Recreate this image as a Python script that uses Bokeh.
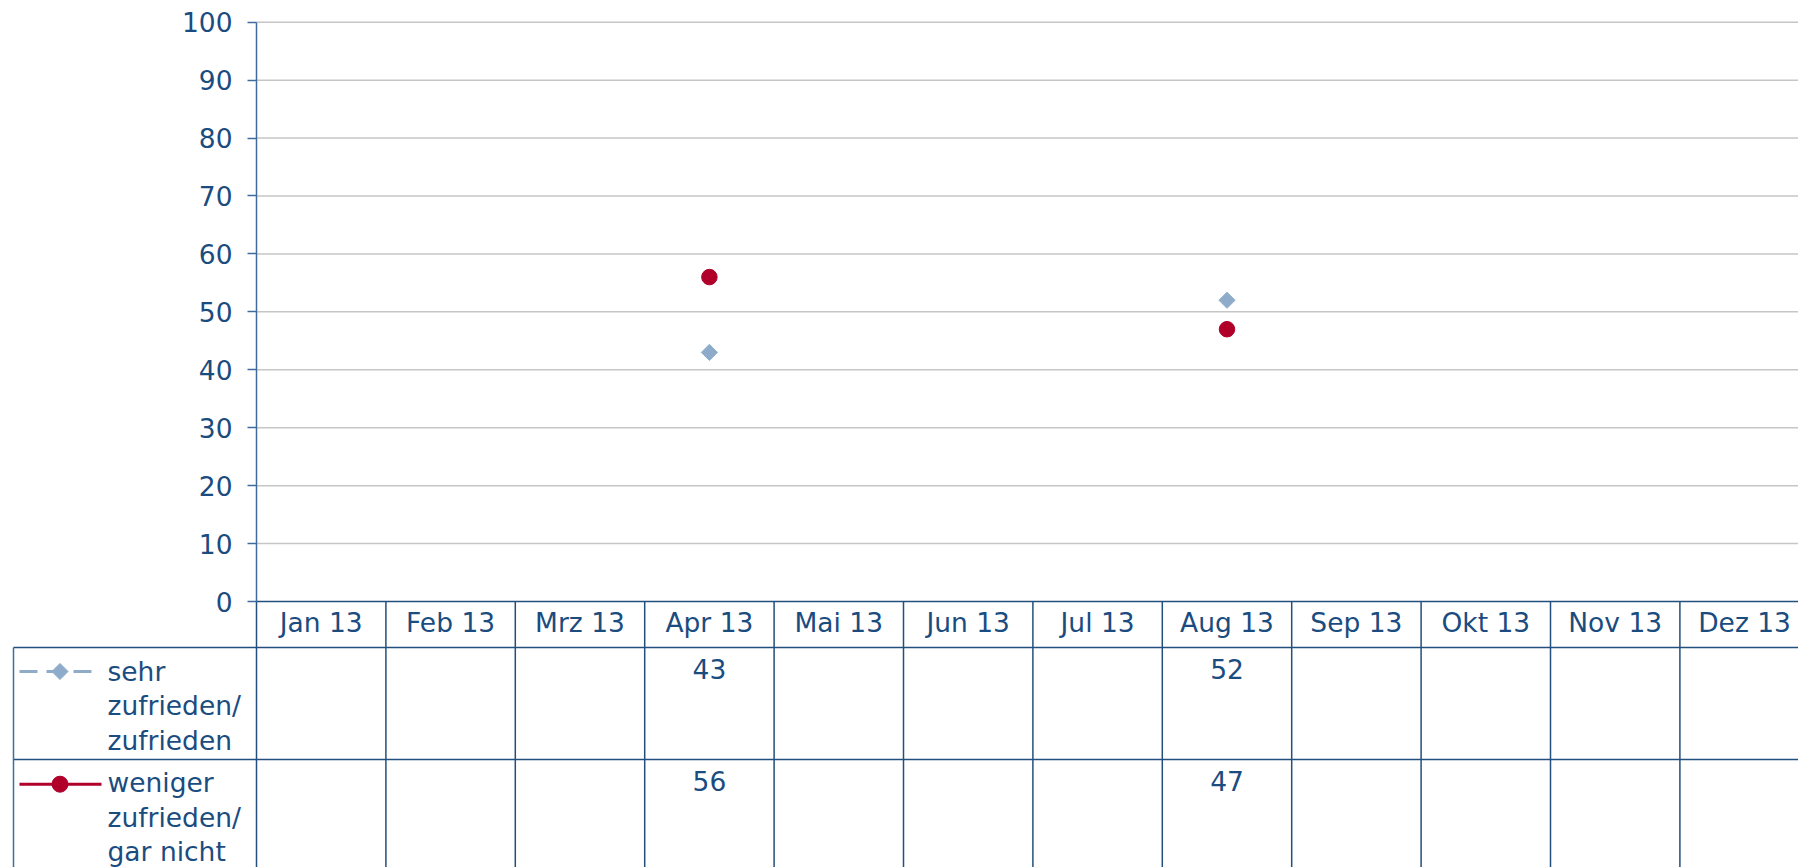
import math
from bokeh.plotting import figure
from bokeh.models import Range1d, LinearAxis, FixedTicker
from bokeh.core.properties import value
from bokeh.embed import file_html
from bokeh.resources import INLINE

# ---------------- data ----------------
MONTHS = ["Jan 13", "Feb 13", "Mrz 13", "Apr 13", "Mai 13", "Jun 13",
          "Jul 13", "Aug 13", "Sep 13", "Okt 13", "Nov 13", "Dez 13"]
ZUFRIEDEN = [None, None, None, 43, None, None, None, 52, None, None, None, None]
WENIGER = [None, None, None, 56, None, None, None, 47, None, None, None, None]
LEGEND_ZUFRIEDEN = ["sehr", "zufrieden/", "zufrieden"]
LEGEND_WENIGER = ["weniger", "zufrieden/", "gar nicht"]
Y_TICKS = [0, 10, 20, 30, 40, 50, 60, 70, 80, 90, 100]

# ---------------- styles / layout (page pixels) ----------------
FONT = value("DejaVu Sans")
FSIZE = "26.5px"
TEXT_COLOR = "#1B4C7F"
AXIS_COLOR = "#3E6C9C"
TABLE_COLOR = "#234F7E"
GRID_COLOR = "#C6C6C6"
BLUE = "#8EACC9"
RED = "#B0002A"

MARGIN = 0
FIG_W, FIG_H = 1798, 867
AXIS_PX_X = 256.0
COL_PX = 129.4
ZERO_PX_Y = 601.0
UNIT_PX_Y = 5.793
TABLE_LEFT_PX = 13.0
ROW_TOPS_PX = [647.0, 759.0]


def dx(px):
    return (px - AXIS_PX_X) / COL_PX - 0.5


def dy(py):
    return (ZERO_PX_Y - py) / UNIT_PX_Y


X_START, X_END = dx(MARGIN), dx(MARGIN + FIG_W)
Y_START, Y_END = dy(MARGIN + FIG_H), dy(MARGIN)

p = figure(width=FIG_W, height=FIG_H,
           x_range=Range1d(X_START, X_END), y_range=Range1d(Y_START, Y_END),
           output_backend="svg", toolbar_location=None,
           x_axis_location=None, y_axis_location=None,
           min_border=0, min_border_left=0, min_border_right=0,
           min_border_top=0, min_border_bottom=0,
           outline_line_color=None, background_fill_color="white",
           border_fill_color="white")
p.grid.visible = False

n = len(MONTHS)

# gridlines (10..100)
gy = [t for t in Y_TICKS if t > 0]
p.segment(x0=[-0.5] * len(gy), x1=[X_END + 1] * len(gy), y0=gy, y1=gy,
          line_color=GRID_COLOR, line_width=1.5)

# data table lines
bottom = Y_START - 1
p.segment(x0=[dx(TABLE_LEFT_PX)] * 2, x1=[X_END + 1] * 2,
          y0=[dy(r) for r in ROW_TOPS_PX], y1=[dy(r) for r in ROW_TOPS_PX],
          line_color=TABLE_COLOR, line_width=1.5)
bx = [k - 0.5 for k in range(n + 1)]
p.segment(x0=bx, x1=bx, y0=[0] * len(bx), y1=[bottom] * len(bx),
          line_color=TABLE_COLOR, line_width=1.5)
p.segment(x0=[dx(TABLE_LEFT_PX)], x1=[dx(TABLE_LEFT_PX)],
          y0=[dy(ROW_TOPS_PX[0])], y1=[bottom],
          line_color=AXIS_COLOR, line_width=1.5)

# series markers
z_x = [i for i, v in enumerate(ZUFRIEDEN) if v is not None]
z_y = [v for v in ZUFRIEDEN if v is not None]
w_x = [i for i, v in enumerate(WENIGER) if v is not None]
w_y = [v for v in WENIGER if v is not None]

p.scatter(z_x, z_y, marker="square", angle=math.pi / 4, size=11.4,
          fill_color=BLUE, line_color=BLUE)
p.scatter(w_x, w_y, marker="circle", size=15.5, fill_color=RED, line_color=RED)

# table values
TEXT_SHIFT = 12.0
text_kw = dict(text_font=FONT, text_font_size=FSIZE, text_color=TEXT_COLOR)
p.text(x=z_x, y=[dy(680.5 - TEXT_SHIFT)] * len(z_x), text=[str(v) for v in z_y],
       text_align="center", text_baseline="alphabetic", **text_kw)
p.text(x=w_x, y=[dy(792.0 - TEXT_SHIFT)] * len(w_x), text=[str(v) for v in w_y],
       text_align="center", text_baseline="alphabetic", **text_kw)

# legend cells
p.line([dx(19), dx(96)], [dy(671)] * 2, line_color=BLUE, line_width=3,
       line_dash="18 9")
p.scatter([dx(59.5)], [dy(671)], marker="square", angle=math.pi / 4, size=11.4,
          fill_color=BLUE, line_color=BLUE)
p.line([dx(19), dx(101)], [dy(783.7)] * 2, line_color=RED, line_width=3)
p.scatter([dx(59.5)], [dy(783.7)], marker="circle", size=16,
          fill_color=RED, line_color=RED)

LINE_STEP = 34.7
p.text(x=[dx(107)] * 3,
       y=[dy(682.7 - TEXT_SHIFT + k * LINE_STEP) for k in range(3)],
       text=LEGEND_ZUFRIEDEN, text_align="left", text_baseline="alphabetic",
       **text_kw)
p.text(x=[dx(107)] * 3,
       y=[dy(794.0 - TEXT_SHIFT + k * LINE_STEP) for k in range(3)],
       text=LEGEND_WENIGER, text_align="left", text_baseline="alphabetic",
       **text_kw)

# y axis
yaxis = LinearAxis(fixed_location=-0.5, ticker=FixedTicker(ticks=Y_TICKS),
                   bounds=(0, 100))
yaxis.axis_line_color = AXIS_COLOR
yaxis.axis_line_width = 1.5
yaxis.major_tick_out = 9
yaxis.major_tick_in = 0
yaxis.major_tick_line_color = AXIS_COLOR
yaxis.major_tick_line_width = 1.5
yaxis.minor_tick_out = 0
yaxis.minor_tick_in = 0
yaxis.major_label_standoff = 15
yaxis.major_label_text_font = "DejaVu Sans"
yaxis.major_label_text_font_size = FSIZE
yaxis.major_label_text_color = TEXT_COLOR
p.add_layout(yaxis, "left")

# x axis (category labels)
xaxis = LinearAxis(fixed_location=0, ticker=FixedTicker(ticks=list(range(n))),
                   major_label_overrides={i: m for i, m in enumerate(MONTHS)},
                   bounds=(-0.5, n))
xaxis.axis_line_color = TABLE_COLOR
xaxis.axis_line_width = 1.5
xaxis.major_tick_out = 0
xaxis.major_tick_in = 0
xaxis.minor_tick_out = 0
xaxis.minor_tick_in = 0
xaxis.major_label_standoff = 5
xaxis.major_label_text_font = "DejaVu Sans"
xaxis.major_label_text_font_size = FSIZE
xaxis.major_label_text_color = TEXT_COLOR
p.add_layout(xaxis, "below")

open("out.html", "w").write(file_html(p, INLINE))
